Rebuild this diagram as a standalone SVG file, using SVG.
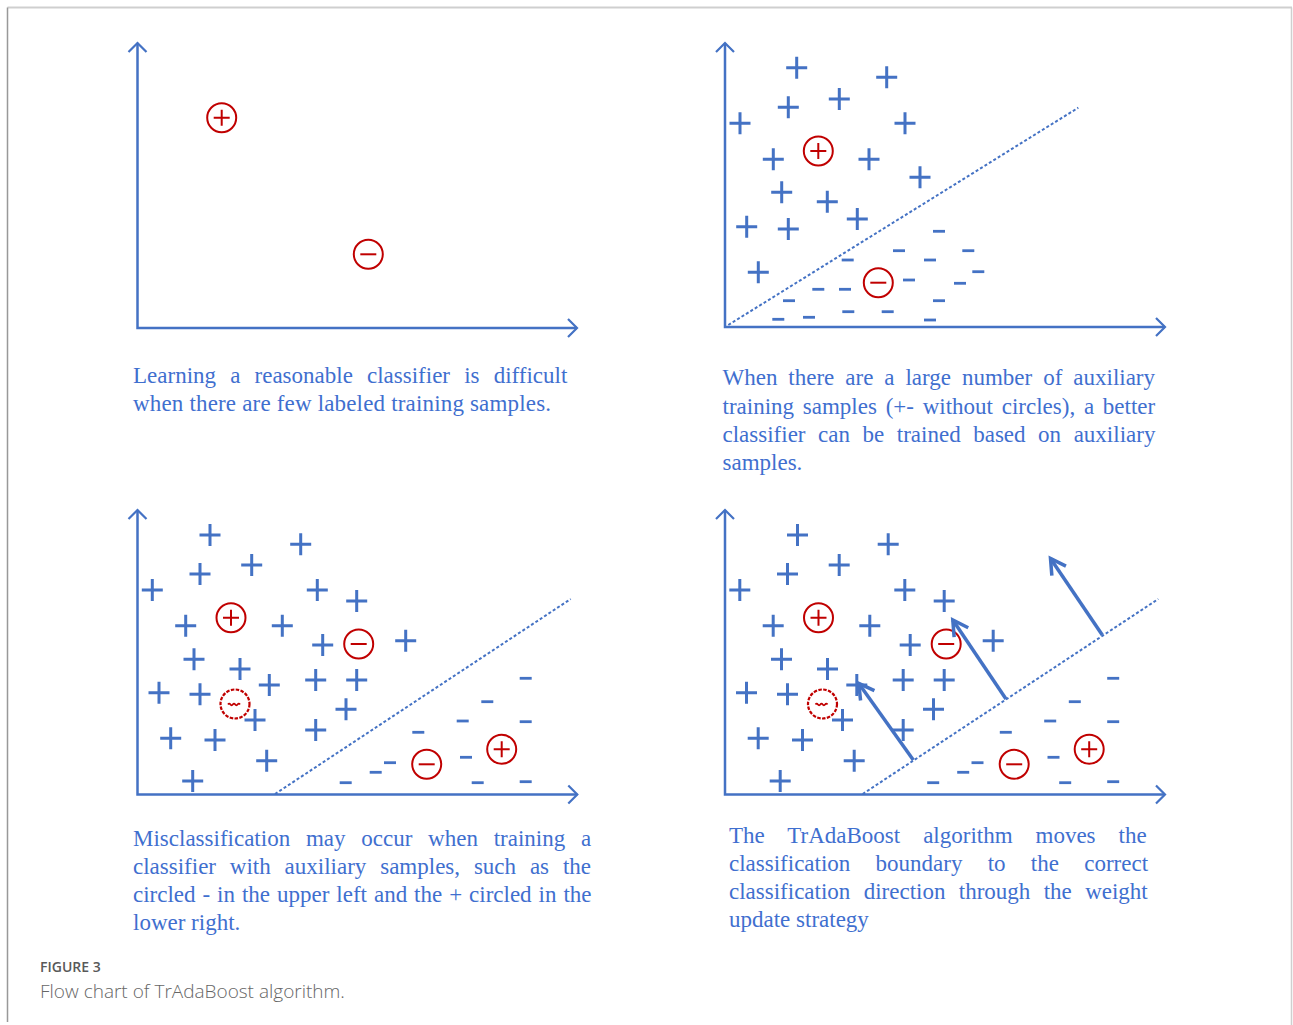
<svg xmlns="http://www.w3.org/2000/svg" xmlns:xlink="http://www.w3.org/1999/xlink" width="1293" height="1025" viewBox="0 0 1293 1025">
<style>
.ax{fill:none;stroke:#4472c4;stroke-width:2.5;marker-start:url(#axh);marker-end:url(#axh)}
.bd{fill:none;stroke:#4472c4;stroke-width:2;stroke-dasharray:3 2.2}
.ar{fill:none;stroke:#4472c4;stroke-width:3.5;marker-end:url(#arh)}
.t{font-family:"Liberation Serif","Times New Roman",serif;font-size:23px;fill:#3f6fcf}
.cap1{font-family:"Open Sans","Noto Sans",sans-serif;font-size:14px;font-weight:600;fill:#595959}
.cap2{font-family:"Open Sans","Noto Sans",sans-serif;font-size:19px;font-weight:300;fill:#666}
</style>
<defs>
<marker id="axh" viewBox="-12 -12 24 24" refX="0" refY="0" markerWidth="24" markerHeight="24" markerUnits="userSpaceOnUse" orient="auto-start-reverse" overflow="visible">
<path d="M-9,-9 L0,0 L-9,9" fill="none" stroke="#4472c4" stroke-width="2.2"/>
</marker>
<marker id="arh" viewBox="-20 -12 24 24" refX="0" refY="0" markerWidth="24" markerHeight="24" markerUnits="userSpaceOnUse" orient="auto" overflow="visible">
<path d="M-15,-8.5 L0,0 L-15,8.5" fill="none" stroke="#4472c4" stroke-width="3.5"/>
</marker>
<path id="p" d="M-10.5,0H10.5M0,-11V11" stroke="#4472c4" stroke-width="3" fill="none"/>
<path id="m" d="M-6,0H6" stroke="#4472c4" stroke-width="2.8" fill="none"/>
<g id="rp"><circle r="14.5" fill="none" stroke="#c00000" stroke-width="2"/><path d="M-8,0H8M0,-8V8" stroke="#c00000" stroke-width="2"/></g>
<g id="rm"><circle r="14.5" fill="none" stroke="#c00000" stroke-width="2"/><path d="M-8,0H8" stroke="#c00000" stroke-width="2"/></g>
<g id="rd"><circle r="14.5" fill="none" stroke="#c00000" stroke-width="2.2" stroke-dasharray="3.5 1.4"/><path d="M-7,0.5 q1.2,-1.6 2.4,0 t2.4,0 t2.4,0 t2.4,0 t2.4,0" stroke="#c00000" stroke-width="1.8" fill="none"/></g>
<g id="cloud">
<use href="#p" x="210" y="535"/><use href="#p" x="300.7" y="544.3"/><use href="#p" x="251.7" y="565"/><use href="#p" x="200" y="574"/>
<use href="#p" x="152.3" y="590"/><use href="#p" x="317.3" y="590"/><use href="#p" x="356.7" y="601"/><use href="#p" x="185.7" y="625.7"/>
<use href="#p" x="282.3" y="625.7"/><use href="#p" x="322.7" y="645"/><use href="#p" x="405.7" y="640.7"/><use href="#p" x="194" y="659.3"/>
<use href="#p" x="240" y="669"/><use href="#p" x="269.3" y="685"/><use href="#p" x="315.7" y="680"/><use href="#p" x="356.7" y="680"/>
<use href="#p" x="159" y="692.7"/><use href="#p" x="200" y="694.3"/><use href="#p" x="255" y="720"/><use href="#p" x="346" y="709.3"/>
<use href="#p" x="170.7" y="738.3"/><use href="#p" x="215" y="740"/><use href="#p" x="315.7" y="730"/><use href="#p" x="266.7" y="760.7"/>
<use href="#p" x="192.7" y="781"/>
<use href="#m" x="525.7" y="678.3"/><use href="#m" x="487.3" y="701.7"/><use href="#m" x="462.7" y="721"/><use href="#m" x="525.7" y="721.7"/>
<use href="#m" x="418.3" y="732.3"/><use href="#m" x="390" y="762.7"/><use href="#m" x="375.7" y="772.3"/><use href="#m" x="345.7" y="782.7"/>
<use href="#m" x="466" y="757.3"/><use href="#m" x="477.7" y="782.7"/><use href="#m" x="525.7" y="781.7"/>
<use href="#rp" x="231" y="617.7"/><use href="#rm" x="358.7" y="644"/><use href="#rd" x="235" y="704"/>
<use href="#rm" x="426.7" y="764.3"/><use href="#rp" x="501.7" y="749.3"/>
</g>
</defs>
<rect width="1293" height="1025" fill="#fff"/>
<g id="frame">
<path d="M7.5,7.5H1292" stroke="#cfcfcf" stroke-width="2" fill="none"/>
<path d="M7.5,7.5V1022" stroke="#999" stroke-width="1.5" fill="none"/>
<path d="M1291.5,7.5V1025" stroke="#cfcfcf" stroke-width="1.5" fill="none"/>
</g>

<g id="panel1">
<path class="ax" d="M137.5,43V328H577"/>
<use href="#rp" x="221.7" y="117.7"/>
<use href="#rm" x="368.3" y="254.3"/>
<text class="t" x="133" y="383" word-spacing="8.4">Learning a reasonable classifier is difficult</text>
<text class="t" x="133" y="410.5" textLength="418" lengthAdjust="spacing">when there are few labeled training samples.</text>
</g>

<g id="panel2">
<path class="ax" d="M725,43V327H1165"/>
<path class="bd" d="M728.3,325L1078.3,107.7"/>
<use href="#p" x="796.7" y="67.7"/><use href="#p" x="886.7" y="77.3"/><use href="#p" x="839.3" y="99"/><use href="#p" x="788.3" y="107.3"/>
<use href="#p" x="740" y="123.3"/><use href="#p" x="905" y="123.3"/><use href="#p" x="773.3" y="159.3"/><use href="#p" x="869" y="159.3"/>
<use href="#p" x="920" y="177.3"/><use href="#p" x="781.7" y="192.3"/><use href="#p" x="827.3" y="201.7"/><use href="#p" x="857.3" y="219"/>
<use href="#p" x="746.7" y="226.7"/><use href="#p" x="788.3" y="229"/><use href="#p" x="758.3" y="272.3"/>
<use href="#m" x="939" y="231.3"/><use href="#m" x="899" y="250.7"/><use href="#m" x="968.3" y="250.7"/><use href="#m" x="847.7" y="260"/>
<use href="#m" x="930" y="260"/><use href="#m" x="978.3" y="271.7"/><use href="#m" x="909" y="280"/><use href="#m" x="960" y="283.3"/>
<use href="#m" x="818.3" y="289.3"/><use href="#m" x="845" y="289.3"/><use href="#m" x="789" y="300.7"/><use href="#m" x="939" y="300.7"/>
<use href="#m" x="778.3" y="319.3"/><use href="#m" x="809" y="317.3"/><use href="#m" x="848.3" y="311.7"/><use href="#m" x="887.7" y="311.7"/>
<use href="#m" x="930" y="320"/>
<use href="#rp" x="818.3" y="151"/>
<use href="#rm" x="878.3" y="282.7"/>
<text class="t" x="722.5" y="385" word-spacing="5.2">When there are a large number of auxiliary</text>
<text class="t" x="722.5" y="413.5" word-spacing="3">training samples (+- without circles), a better</text>
<text class="t" x="722.5" y="442" word-spacing="6.8">classifier can be trained based on auxiliary</text>
<text class="t" x="722.5" y="470">samples.</text>
</g>

<g id="panel3">
<path class="ax" d="M137.5,510V794.5H577.3"/>
<path class="bd" d="M275,794L570.7,599"/>
<use href="#cloud"/>
<text class="t" x="133" y="846" word-spacing="10">Misclassification may occur when training a</text>
<text class="t" x="133" y="874" word-spacing="8.1">classifier with auxiliary samples, such as the</text>
<text class="t" x="133" y="902" word-spacing="1.2">circled - in the upper left and the + circled in the</text>
<text class="t" x="133" y="929.5">lower right.</text>
</g>

<g id="panel4">
<path class="ax" d="M725,510V794.5H1165"/>
<path class="bd" d="M862.7,794L1158.3,599"/>
<use href="#cloud" transform="translate(587.5,0)"/>
<text class="t" x="729" y="843" word-spacing="17.2">The TrAdaBoost algorithm moves the</text>
<text class="t" x="729" y="871" word-spacing="19.5">classification boundary to the correct</text>
<text class="t" x="729" y="899" word-spacing="7.6">classification direction through the weight</text>
<text class="t" x="729" y="926.5">update strategy</text>
</g>

<g id="connectors">
<path class="ar" d="M913.3,760L858.8,683.4"/>
<path class="ar" d="M1006,699L952.8,620"/>
<path class="ar" d="M1102.3,635L1050.5,558.4"/>
</g>

<g id="caption">
<text class="cap1" x="40" y="972">FIGURE 3</text>
<text class="cap2" x="40" y="998">Flow chart of TrAdaBoost algorithm.</text>
</g>
</svg>
